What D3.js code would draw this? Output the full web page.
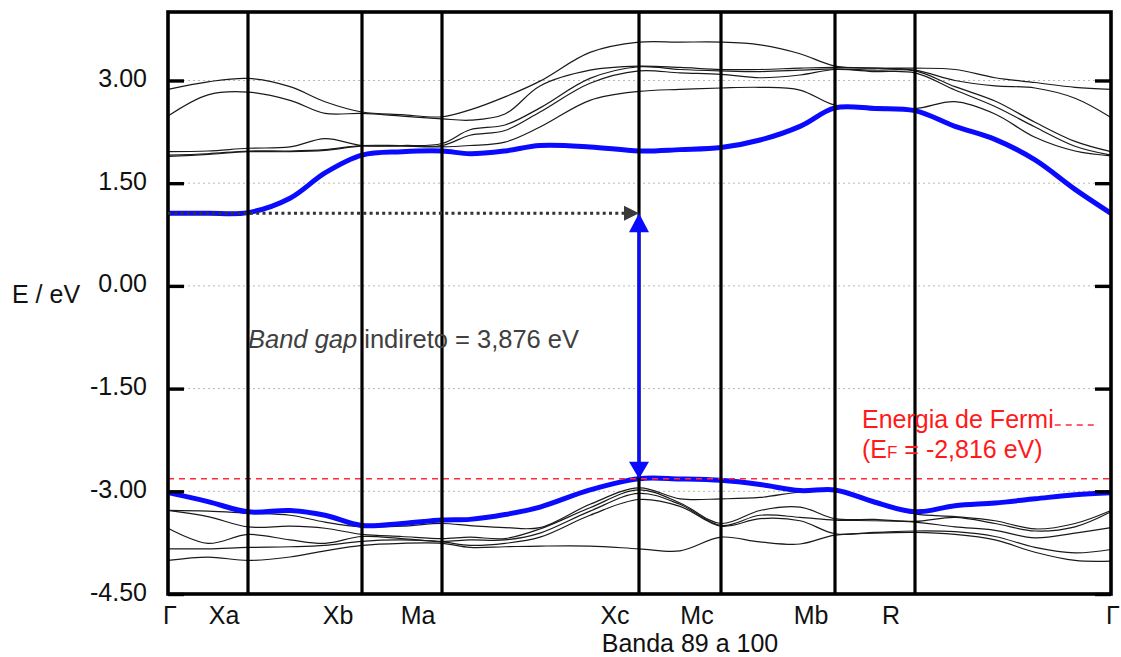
<!DOCTYPE html>
<html><head><meta charset="utf-8">
<script src="https://cdn.jsdelivr.net/npm/d3@7/dist/d3.min.js"></script>
<style>body{margin:0;background:#fff} svg{display:block} text{font-family:"Liberation Sans",Arial,sans-serif}</style>
</head><body><svg id="c" width="1121" height="657"></svg>
<script>
// ---- data ----
const kPoints = [0, 80, 194, 274, 471, 553, 667, 747, 943];
const kLabels = ["Γ", "Xa", "Xb", "Ma", "Xc", "Mc", "Mb", "R", "Γ"];
const kGrid = [0, 40, 80, 122, 157, 194, 234, 274, 302, 337, 372, 422, 471, 512, 553, 592, 632, 667, 707, 747, 787, 827, 867, 907, 943];
const yTicks = [3, 1.5, 0, -1.5, -3, -4.5];
const yTickLabels = ["3.00", "1.50", "0.00", "-1.50", "-3.00", "-4.50"];
const fermiEnergy = -2.816;
const bandGap = 3.876;
const cbMinK = 0, vbMaxK = 471;

// conduction band minimum (blue) and valence band maximum (blue)
const cbBlue = [1.06, 1.06, 1.07, 1.28, 1.65, 1.91, 1.96, 1.97, 1.93, 1.97, 2.05, 2.03, 1.97, 1.99, 2.02, 2.13, 2.33, 2.60, 2.59, 2.56, 2.33, 2.14, 1.84, 1.41, 1.06];
const vbBlue = [-3.02, -3.15, -3.30, -3.28, -3.35, -3.50, -3.47, -3.42, -3.41, -3.34, -3.23, -2.98, -2.816, -2.82, -2.84, -2.90, -2.99, -2.98, -3.16, -3.30, -3.21, -3.17, -3.11, -3.05, -3.02];
// other conduction bands
const cb1 = [2.87, 2.98, 3.03, 2.91, 2.69, 2.54, 2.50, 2.47, 2.57, 2.76, 2.99, 3.41, 3.56, 3.56, 3.56, 3.52, 3.39, 3.21, 3.18, 3.18, 3.16, 3.04, 2.97, 2.90, 2.87];
const cb2 = [2.48, 2.79, 2.83, 2.71, 2.52, 2.52, 2.48, 2.44, 2.42, 2.51, 2.92, 3.15, 3.21, 3.19, 3.16, 3.16, 3.18, 3.19, 3.18, 3.15, 3.00, 2.92, 2.89, 2.74, 2.46];
const cb3 = [1.96, 1.97, 2.01, 2.03, 2.15, 2.05, 2.05, 2.08, 2.28, 2.35, 2.60, 3.03, 3.20, 3.16, 3.14, 3.13, 3.15, 3.17, 3.15, 3.14, 2.91, 2.70, 2.39, 2.11, 1.96];
const cb4 = [1.91, 1.93, 1.97, 1.97, 1.99, 2.05, 2.05, 2.05, 2.20, 2.27, 2.54, 2.96, 3.14, 3.11, 3.09, 3.04, 3.08, 3.16, 3.13, 3.11, 2.86, 2.62, 2.32, 2.04, 1.91];
const cb5 = [1.89, 1.92, 1.96, 1.96, 1.98, 2.04, 2.04, 2.03, 2.05, 2.10, 2.32, 2.71, 2.84, 2.87, 2.89, 2.90, 2.86, 2.64, 2.62, 2.59, 2.69, 2.51, 2.17, 1.97, 1.90];
// other valence bands
const vb1 = [-3.28, -3.29, -3.32, -3.35, -3.45, -3.52, -3.51, -3.47, -3.50, -3.53, -3.53, -3.19, -2.95, -3.11, -3.11, -3.09, -3.01, -2.99, -3.17, -3.33, -3.37, -3.43, -3.55, -3.47, -3.28];
const vb2 = [-3.28, -3.37, -3.52, -3.51, -3.54, -3.63, -3.66, -3.69, -3.67, -3.69, -3.55, -3.24, -2.98, -3.17, -3.47, -3.28, -3.23, -3.40, -3.41, -3.44, -3.38, -3.47, -3.58, -3.52, -3.30];
const vb3 = [-3.54, -3.76, -3.63, -3.71, -3.76, -3.66, -3.69, -3.73, -3.71, -3.71, -3.61, -3.29, -3.03, -3.19, -3.50, -3.35, -3.38, -3.42, -3.43, -3.45, -3.52, -3.57, -3.68, -3.61, -3.53];
const vb4 = [-3.84, -3.84, -3.82, -3.81, -3.79, -3.73, -3.71, -3.74, -3.79, -3.76, -3.67, -3.35, -3.12, -3.22, -3.51, -3.40, -3.43, -3.62, -3.60, -3.58, -3.59, -3.66, -3.82, -3.90, -3.85];
const vb5 = [-4.01, -3.96, -4.01, -3.96, -3.87, -3.79, -3.76, -3.76, -3.82, -3.81, -3.80, -3.80, -3.84, -3.87, -3.67, -3.74, -3.77, -3.64, -3.61, -3.60, -3.63, -3.71, -3.89, -4.01, -4.02];
const blackBands = [cb1, cb2, cb3, cb4, cb5, vb1, vb2, vb3, vb4, vb5];
const blueBands = [cbBlue, vbBlue];

// ---- layout ----
const L = 168, R = 1111, T = 12, B = 594;
const svg = d3.select("#c");
const x = d3.scaleLinear().domain([0, 943]).range([L, R]);
const y = d3.scaleLinear().domain([-4.5, 4.0]).range([B, T]);
const FS = 25;

// gridlines
svg.append("g").selectAll("line").data(yTicks.filter(v => v > -4.5)).join("line")
  .attr("x1", L).attr("x2", R).attr("y1", d => y(d)).attr("y2", d => y(d))
  .attr("stroke", "#b8b8b8").attr("stroke-width", 1).attr("stroke-dasharray", "2,3");

const line = d3.line().x((d, i) => x(kGrid[i])).y(d => y(d)).curve(d3.curveCatmullRom.alpha(0.5));

svg.append("g").selectAll("path").data(blackBands).join("path")
  .attr("d", line).attr("fill", "none").attr("stroke", "#1a1a1a").attr("stroke-width", 1.2);

svg.append("g").selectAll("path").data(blueBands).join("path")
  .attr("d", line).attr("fill", "none").attr("stroke", "#0a0aff").attr("stroke-width", 5).attr("stroke-linejoin", "round");

// Fermi level
svg.append("line").attr("x1", L).attr("x2", R).attr("y1", y(fermiEnergy)).attr("y2", y(fermiEnergy))
  .attr("stroke", "#ff2a3a").attr("stroke-width", 1.6).attr("stroke-dasharray", "6,5");

// k-point vertical lines
svg.append("g").selectAll("line").data(kPoints.slice(1, -1)).join("line")
  .attr("x1", d => x(d)).attr("x2", d => x(d)).attr("y1", T).attr("y2", B)
  .attr("stroke", "#000").attr("stroke-width", 3.2);

// frame
svg.append("rect").attr("x", L).attr("y", T).attr("width", R - L).attr("height", B - T)
  .attr("fill", "none").attr("stroke", "#000").attr("stroke-width", 3.6);

// y axis (ticks inside)
const yAxis = d3.axisLeft(y).tickValues(yTicks).tickSizeInner(-16).tickSizeOuter(0).tickPadding(21)
  .tickFormat((d, i) => yTickLabels[i]);
const ga = svg.append("g").attr("transform", `translate(${L},0)`).call(yAxis);
ga.select(".domain").remove();
ga.selectAll(".tick line").attr("stroke", "#000").attr("stroke-width", 3.4);
ga.selectAll(".tick text").attr("font-size", FS).attr("fill", "#111").attr("dy", "0.24em")
  .attr("font-family", '"Liberation Sans", Arial, sans-serif');
const gr = svg.append("g").attr("transform", `translate(${R},0)`)
  .call(d3.axisRight(y).tickValues(yTicks).tickSizeInner(-16).tickSizeOuter(0).tickFormat(""));
gr.select(".domain").remove();
gr.selectAll(".tick line").attr("stroke", "#000").attr("stroke-width", 3.4);

// k labels
svg.append("g").selectAll("text").data(kLabels).join("text")
  .attr("x", (d, i) => (i === 0 || i === kLabels.length - 1) ? x(kPoints[i]) + 2 : x(kPoints[i]) - 24)
  .attr("y", 624).attr("text-anchor", "middle").attr("font-size", FS).attr("fill", "#111").text(d => d);

svg.append("text").attr("x", 690).attr("y", 652).attr("text-anchor", "middle")
  .attr("font-size", FS).attr("fill", "#111").text("Banda 89 a 100");
svg.append("text").attr("x", 12).attr("y", 303).attr("font-size", FS).attr("fill", "#111").text("E / eV");

// indirect gap arrows
const cbMin = fermiEnergy + bandGap;
const xc = x(vbMaxK), yc = y(cbMin), yv = y(fermiEnergy);
svg.append("line").attr("x1", x(cbMinK)).attr("x2", xc - 13).attr("y1", yc).attr("y2", yc)
  .attr("stroke", "#333").attr("stroke-width", 3).attr("stroke-dasharray", "3,3.3");
svg.append("path").attr("d", `M${xc},${yc} L${xc - 15},${yc - 7.5} L${xc - 15},${yc + 7.5} Z`).attr("fill", "#3a3a3a");

svg.append("line").attr("x1", xc).attr("x2", xc).attr("y1", yc + 16).attr("y2", yv - 14)
  .attr("stroke", "#0a0aff").attr("stroke-width", 3);
svg.append("path").attr("d", `M${xc},${yc} L${xc - 10},${yc + 19} L${xc + 10},${yc + 19} Z`).attr("fill", "#0a0aff");
svg.append("path").attr("d", `M${xc},${yv} L${xc - 10},${yv - 17} L${xc + 10},${yv - 17} Z`).attr("fill", "#0a0aff");

// gap text
const gt = svg.append("text").attr("x", 248).attr("y", 348).attr("font-size", 25.5).attr("fill", "#404040");
gt.append("tspan").attr("font-style", "italic").text("Band gap");
gt.append("tspan").text(" indireto = 3,876 eV");

// Fermi legend
const ft = svg.append("text").attr("x", 862).attr("y", 428).attr("font-size", FS).attr("fill", "#ff1a1a").text("Energia de Fermi");
const fb = ft.node().getBBox();
svg.append("line").attr("x1", fb.x + fb.width + 1).attr("x2", 1098).attr("y1", 425).attr("y2", 425)
  .attr("stroke", "#ff2a3a").attr("stroke-width", 1.6).attr("stroke-dasharray", "6,5");
const ft2 = svg.append("text").attr("x", 862).attr("y", 458).attr("font-size", FS).attr("fill", "#ff1a1a");
ft2.append("tspan").text("(E");
ft2.append("tspan").attr("font-size", 17).text("F");
ft2.append("tspan").text(" = -2,816 eV)");
</script></body></html>
